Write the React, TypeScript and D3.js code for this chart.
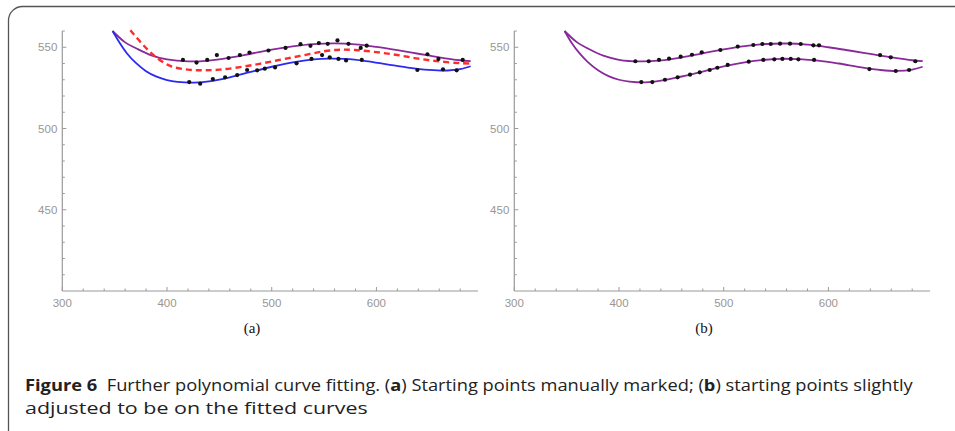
import React, { useLayoutEffect, useRef, useState } from "react";
import * as d3 from "d3";

// ---------- DATA ----------
const xTickLabels = [300, 400, 500, 600];
const yTickLabels = [450, 500, 550];
const panelLabels = ["(a)", "(b)"];
const captionBold = "Figure 6";
const captionLine1 = [
  { t: "Further polynomial curve fitting. (", b: false },
  { t: "a", b: true },
  { t: ") Starting points manually marked; (", b: false },
  { t: "b", b: true },
  { t: ") starting points slightly", b: false },
];
const captionLine2 = "adjusted to be on the fitted curves";

// Panel (a) fitted curves
const aUpperFit: [number, number][] = [
  [348, 560], [360, 553], [370, 549.5], [385, 545], [400, 542.5], [420, 541.3], [440, 541.8],
  [460, 543.6], [480, 546], [500, 548.5], [520, 550.5], [540, 551.9], [560, 552.4], [580, 551.8],
  [600, 550.2], [620, 548.2], [640, 546], [660, 543.8], [680, 542], [690, 541.4],
];
const aLowerFit: [number, number][] = [
  [348, 560], [355, 552.5], [362, 546], [370, 540.5], [380, 535.3], [390, 531.9], [400, 529.8],
  [410, 528.7], [425, 528.2], [440, 529], [460, 531.5], [480, 534.8], [500, 538], [520, 540.7],
  [540, 542.5], [555, 543], [570, 542.8], [590, 541.5], [610, 539.5], [630, 537.5], [650, 536.1],
  [668, 535.7], [680, 536.5], [690, 538.3],
];
const aMidFit: [number, number][] = [
  [365, 560.5], [375, 553], [387, 545.2], [403, 538.5], [420, 536.2], [435, 535.8], [450, 536.2],
  [470, 537.8], [490, 540], [510, 542.5], [530, 545], [550, 547.5], [565, 548.5], [580, 548.3],
  [600, 547], [620, 545.2], [640, 543], [660, 541.3], [680, 540.2], [690, 540],
];
const aUpperPts: [number, number][] = [
  [415.2, 542.2], [428.2, 540.6], [438.4, 542.2], [447.6, 545.2], [458.8, 543.4], [469.6, 545.2],
  [478.8, 546.7], [496.9, 548.0], [513.2, 549.6], [527.5, 551.9], [537.0, 550.9], [545, 552.6],
  [553.5, 552.1], [562.8, 554.2], [573.3, 552.1], [585, 549.6], [590.7, 551.0], [648.7, 545.7],
  [659.2, 542.8], [682.4, 542.2],
];
const aLowerPts: [number, number][] = [
  [421.2, 528.6], [431.7, 527.6], [443.8, 530.4], [455.5, 531.5], [467.0, 532.9], [476.5, 536.0],
  [486.1, 535.8], [493.4, 536.8], [503.2, 537.6], [523.7, 540.1], [538, 542.8], [548.1, 545.2],
  [555.4, 543.8], [563.7, 542.8], [571, 541.9], [586, 542.2], [639.1, 536.0], [663.6, 536.4],
  [676.6, 535.8],
];

// Panel (b)
const bUpperFit: [number, number][] = [
  [348, 560], [360, 553], [370, 549.3], [385, 544.8], [400, 542.3], [420, 541.3], [440, 541.9],
  [460, 543.8], [480, 546.3], [500, 548.7], [520, 550.7], [540, 552], [560, 552.3], [580, 551.6],
  [600, 550], [620, 548], [640, 545.9], [660, 543.8], [680, 542], [690, 541.5],
];
const bLowerFit: [number, number][] = [
  [348, 560], [355, 552.5], [362, 546.5], [370, 541], [380, 535.8], [390, 532.2], [400, 530],
  [410, 528.9], [425, 528.4], [440, 529.4], [460, 532], [480, 535], [500, 538.2], [520, 540.7],
  [540, 542.3], [555, 542.9], [570, 542.7], [590, 541.8], [610, 540], [630, 537.8], [650, 536],
  [665, 535.4], [680, 536.2], [690, 538],
];
const bUpperPts: [number, number][] = [
  [415.6, 541.4], [428.4, 541.4], [438.2, 542.2], [447.8, 543.0], [458.9, 544.2], [469.7, 545.4],
  [479.0, 546.9], [496.8, 548.3], [513.4, 550.4], [528.3, 551.4], [536.9, 552.0], [544.9, 552.0],
  [553.8, 552.2], [563.3, 552.2], [573.5, 552.0], [585.6, 551.2], [591.0, 551.2], [649.3, 545.2],
  [659.5, 543.8], [683.0, 541.4],
];
const bLowerPts: [number, number][] = [
  [421.3, 528.6], [431.8, 528.6], [443.9, 530.0], [456.0, 531.5], [467.8, 533.1], [477.1, 534.6],
  [486.6, 536.0], [493.9, 537.4], [503.8, 539.1], [523.9, 541.1], [537.8, 542.2], [548.3, 542.6],
  [556.0, 542.8], [564.0, 542.8], [571.3, 542.6], [586.3, 542.2], [639.1, 536.6], [664.3, 535.4],
  [677.0, 536.0],
];

// ---------- STYLE ----------
const PURPLE = "#8a2a9a";
const BLUE = "#2a2af2";
const RED = "#ff2a2a";
const AXIS = "#9a9a9a";
const LABEL = "#9a9690";

const X_DOMAIN: [number, number] = [300, 697];
const Y_DOMAIN: [number, number] = [400, 560];

type Curve = { data: [number, number][]; color: string; dash?: string; width: number };

function Panel({ x0, x1, curves, pts, label, labelX }: { x0: number; x1: number; curves: Curve[]; pts: [number, number][]; label: string; labelX: number }) {
  const x = d3.scaleLinear().domain(X_DOMAIN).range([x0, x1]);
  const y = d3.scaleLinear().domain(Y_DOMAIN).range([291, 31]);
  const line = d3
    .line<[number, number]>()
    .x((d) => x(d[0]))
    .y((d) => y(d[1]))
    .curve(d3.curveCatmullRom.alpha(0.5));
  const xMinor = d3.range(300, 697, 20);
  const yMinor = d3.range(410, 561, 10);
  const ox = x(300);
  const oy = y(400);
  return (
    <g>
      <line x1={ox} x2={x(697)} y1={oy} y2={oy} stroke={AXIS} strokeWidth={1.2} />
      <line x1={ox} x2={ox} y1={oy} y2={y(560)} stroke={AXIS} strokeWidth={1.2} />
      {xMinor.map((v) => {
        const major = v % 100 === 0;
        return <line key={"xm" + v} x1={x(v)} x2={x(v)} y1={oy} y2={oy - (major ? 4 : 2.5)} stroke={AXIS} strokeWidth={1} />;
      })}
      {yMinor.map((v) => {
        const major = v % 50 === 0;
        return <line key={"ym" + v} x1={ox} x2={ox + (major ? 4 : 2.5)} y1={y(v)} y2={y(v)} stroke={AXIS} strokeWidth={1} />;
      })}
      {xTickLabels.map((v) => (
        <text key={"xl" + v} x={x(v)} y={oy + 16} textAnchor="middle" fontFamily="Liberation Sans, Arial, sans-serif" fontSize={11.5} fill={LABEL}>
          {v}
        </text>
      ))}
      {yTickLabels.map((v) => (
        <text key={"yl" + v} x={ox - 5} y={y(v) + 4} textAnchor="end" fontFamily="Liberation Sans, Arial, sans-serif" fontSize={11.5} fill={LABEL}>
          {v}
        </text>
      ))}
      {curves.map((c, i) => (
        <path key={"c" + i} d={line(c.data) || ""} fill="none" stroke={c.color} strokeWidth={c.width} strokeDasharray={c.dash} />
      ))}
      {pts.map((p, i) => (
        <circle key={"p" + i} cx={x(p[0])} cy={y(p[1])} r={2.1} fill="#111" />
      ))}
      <text x={labelX} y={333} textAnchor="middle" fontFamily="Liberation Serif, Times New Roman, serif" fontSize={15} fill="#111">
        {label}
      </text>
    </g>
  );
}

export default function App() {
  const line1Ref = useRef<SVGTextElement>(null);
  const line2Ref = useRef<SVGTextElement>(null);
  const [k1, setK1] = useState(1);
  const [k2, setK2] = useState(1);
  useLayoutEffect(() => {
    if (line1Ref.current) {
      const w = line1Ref.current.getComputedTextLength();
      if (w > 0) setK1(888 / w);
    }
    if (line2Ref.current) {
      const w = line2Ref.current.getComputedTextLength();
      if (w > 0) setK2(343 / w);
    }
  }, []);
  return (
    <svg width={955} height={431} style={{ position: "absolute", left: 0, top: 0, background: "#fff" }}>
      <rect x={8.5} y={6.5} width={970} height={440} rx={14} ry={14} fill="#fff" stroke="#555" strokeWidth={1.3} />
      <Panel
        x0={62.3}
        x1={478}
        curves={[
          { data: aUpperFit, color: PURPLE, width: 1.8 },
          { data: aLowerFit, color: BLUE, width: 1.8 },
          { data: aMidFit, color: RED, width: 2.4, dash: "6,4" },
        ]}
        pts={[...aUpperPts, ...aLowerPts]}
        label={panelLabels[0]}
        labelX={252}
      />
      <Panel
        x0={514.3}
        x1={930}
        curves={[
          { data: bUpperFit, color: PURPLE, width: 1.8 },
          { data: bLowerFit, color: PURPLE, width: 1.8 },
        ]}
        pts={[...bUpperPts, ...bLowerPts]}
        label={panelLabels[1]}
        labelX={704}
      />
      <g transform={`translate(25,0) scale(${k1},1)`}>
        <text ref={line1Ref} x={0} y={391} fontFamily="Open Sans, Noto Sans, sans-serif" fontSize={16.5} fill="#222">
          <tspan fontWeight="bold">{captionBold}</tspan>
          <tspan>{"\u00a0\u00a0"}</tspan>
          {captionLine1.map((s, i) => (
            <tspan key={i} fontWeight={s.b ? "bold" : "normal"}>
              {s.t}
            </tspan>
          ))}
        </text>
      </g>
      <g transform={`translate(25,0) scale(${k2},1)`}>
        <text ref={line2Ref} x={0} y={414} fontFamily="Open Sans, Noto Sans, sans-serif" fontSize={16.5} fill="#222">
          {captionLine2}
        </text>
      </g>
    </svg>
  );
}
